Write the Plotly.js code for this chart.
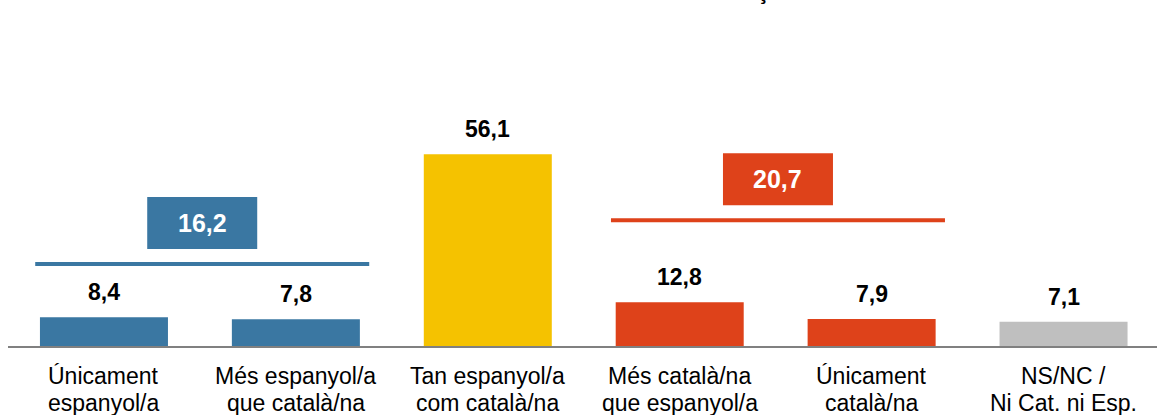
<!DOCTYPE html>
<html>
<head>
<meta charset="utf-8">
<script src="https://cdn.plot.ly/plotly-3.0.1.min.js"></script>
<style>
html,body{margin:0;padding:0;background:#fff;}
#chart{width:1157px;height:415px;}
</style>
</head>
<body>
<div id="chart"></div>
<script>
// ---- data ----
const categories = [
  'Únicament<br>espanyol/a',
  'Més espanyol/a<br>que català/na',
  'Tan espanyol/a<br>com català/na',
  'Més català/na<br>que espanyol/a',
  'Únicament<br>català/na',
  'NS/NC /<br>Ni Cat. ni Esp.'
];
const values = [8.4, 7.8, 56.1, 12.8, 7.9, 7.1];
const valueLabels = ['8,4', '7,8', '56,1', '12,8', '7,9', '7,1'];
const barColors = ['#3A77A2', '#3A77A2', '#F5C200', '#DE421A', '#DE421A', '#BFBFBF'];

const groupStart = [0, 3];
const groupEnd = [1, 4];
const groupValues = [16.2, 20.7];
const groupLabels = ['16,2', '20,7'];
const groupColors = ['#3A77A2', '#DE421A'];
const groupLineY = [24.0, 36.8];   // vertical placement of the bracket lines (axis units)

const titleText = 'ç';

// ---- build ----
const xs = categories.map((c, i) => i);
const FONT = 'Liberation Sans, Arial, sans-serif';

const trace = {
  type: 'bar',
  x: xs,
  y: values,
  marker: {color: barColors, line: {width: 0}},
  width: 0.667,
  hoverinfo: 'skip'
};

const annotations = values.map((v, i) => ({
  x: i, y: v, xref: 'x', yref: 'y',
  text: valueLabels[i], showarrow: false,
  yanchor: 'bottom', yshift: 10,
  font: {family: FONT, size: 23, color: '#000', weight: 'bold'}
}));

// category labels: one annotation per line for tighter line spacing
const lineShifts = [-30, -57];
categories.forEach((c, i) => {
  c.split('<br>').forEach((ln, k) => {
    annotations.push({
      x: i, xref: 'x', y: 0, yref: 'paper',
      text: ln, showarrow: false, yanchor: 'middle', yshift: lineShifts[k],
      font: {family: FONT, size: 23, color: '#000'}
    });
  });
});

const shapes = [];
groupValues.forEach((gv, g) => {
  const cx = (groupStart[g] + groupEnd[g]) / 2 + 0.012;
  shapes.push({
    type: 'line', xref: 'x', yref: 'y',
    xsizemode: 'pixel', xanchor: cx, x0: -167, x1: 167,
    y0: groupLineY[g], y1: groupLineY[g],
    line: {color: groupColors[g], width: 4}
  });
  shapes.push({
    type: 'rect', xref: 'x', yref: 'y',
    xsizemode: 'pixel', xanchor: cx, x0: -55, x1: 55,
    ysizemode: 'pixel', yanchor: groupLineY[g], y0: 15, y1: 67,
    fillcolor: groupColors[g], line: {width: 0}
  });
  annotations.push({
    x: cx, y: groupLineY[g], xref: 'x', yref: 'y',
    text: groupLabels[g], showarrow: false,
    yanchor: 'middle', yshift: 41,
    font: {family: FONT, size: 25, color: '#fff', weight: 'bold'}
  });
});

annotations.push({
  x: (763 - 104.5) / 191.9, xref: 'x', y: 1, yref: 'paper',
  text: titleText, showarrow: false, yanchor: 'bottom', yshift: -6,
  font: {family: FONT, size: 22, color: '#000', weight: 'bold'}
});

const layout = {
  width: 1157, height: 415,
  margin: {l: 8, r: 0, t: 0, b: 69},
  paper_bgcolor: '#fff', plot_bgcolor: '#fff',
  showlegend: false,
  xaxis: {
    range: [-0.5, 5.487],
    tickmode: 'array', tickvals: xs, ticktext: categories,
    showticklabels: false,
    showline: true, linecolor: '#808080', linewidth: 2,
    showgrid: false, zeroline: false, ticks: '',
    fixedrange: true
  },
  yaxis: {
    range: [0, 101.2], visible: false, showgrid: false, zeroline: false,
    fixedrange: true
  },
  shapes: shapes,
  annotations: annotations
};

Plotly.newPlot('chart', [trace], layout, {displayModeBar: false, staticPlot: true});
</script>
</body>
</html>
